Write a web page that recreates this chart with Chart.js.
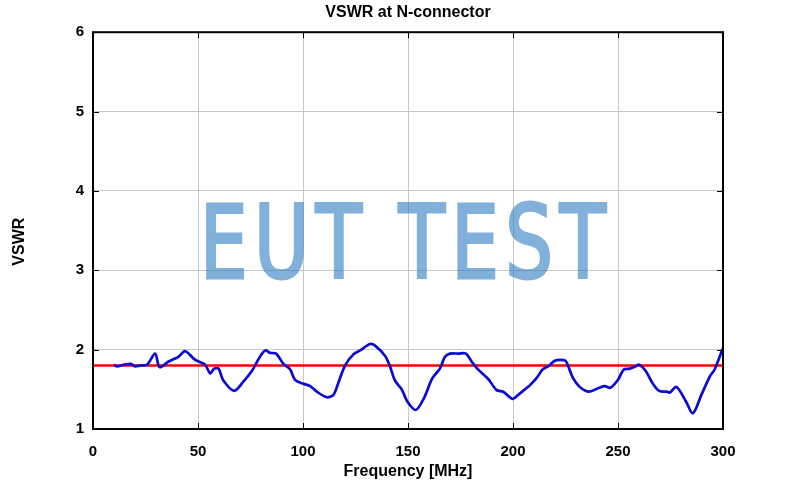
<!DOCTYPE html>
<html>
<head>
<meta charset="utf-8">
<script src="https://cdn.jsdelivr.net/npm/chart.js@4/dist/chart.umd.min.js"></script>
<style>
  html, body { margin: 0; padding: 0; background: #fff; }
  #wrap { position: relative; width: 792px; height: 486px; }
  #watermark {
    position: absolute; left: 200px; top: 183px;
    font-family: "DejaVu Sans Condensed", sans-serif;
    font-weight: normal; font-size: 102px; letter-spacing: 8px; white-space: nowrap;
    color: rgb(45, 125, 195); -webkit-text-stroke: 3px rgb(45, 125, 195);
    opacity: 0.6; pointer-events: none;
    transform-origin: left top; transform: scaleX(0.82);
  }
</style>
</head>
<body>
<div id="wrap">
  <canvas id="vswrChart" width="792" height="486"></canvas>
  <div id="watermark">EUT TEST</div>
</div>
<script>
const freqMHz = [10, 11.5, 14.5, 18, 20, 22.5, 25.7, 29.6, 31.7, 36,
  40.7, 43.9, 48.7, 53.4, 55.8, 57.7, 59.8, 62.1, 67.2, 71.7,
  75.9, 78.8, 82, 84.3, 87.2, 90.7, 93.9, 96.2, 100.2, 103.4,
  106.6, 111.3, 114.5, 116.8, 120, 124, 127.2, 131.9, 134.3, 139.1,
  141.4, 143.8, 147, 149.6, 153.7, 157.6, 161.6, 165.2, 167.6, 170, 174,
  177.6, 180.3, 183, 188.2, 192.2, 195.3, 199.8, 202.5, 205.7, 208,
  211.2, 214.1, 216.7, 219.9, 222.3, 225, 226.3, 228.6, 231.8, 236.3,
  241, 243.7, 246.4, 250, 252.8, 255.6, 257.7, 260, 263.2, 266.4,
  269.6, 273.1, 274.7, 277.8, 282.3, 285.7, 289.7, 293.7, 296, 300];
const vswr = [1.81, 1.79, 1.81, 1.82, 1.79, 1.80, 1.81, 1.95, 1.78, 1.85,
  1.91, 1.98, 1.87, 1.81, 1.70, 1.76, 1.76, 1.61, 1.48, 1.60,
  1.74, 1.88, 1.99, 1.96, 1.95, 1.82, 1.75, 1.62, 1.57, 1.54,
  1.47, 1.40, 1.43, 1.58, 1.80, 1.94, 1.99, 2.07, 2.05, 1.92,
  1.79, 1.61, 1.50, 1.35, 1.24, 1.39, 1.64, 1.76, 1.91, 1.95, 1.95,
  1.95, 1.85, 1.76, 1.63, 1.49, 1.47, 1.38, 1.43, 1.50, 1.55,
  1.64, 1.75, 1.79, 1.86, 1.87, 1.86, 1.79, 1.64, 1.53, 1.47,
  1.52, 1.54, 1.52, 1.62, 1.75, 1.76, 1.78, 1.81, 1.73, 1.58,
  1.48, 1.47, 1.46, 1.53, 1.35, 1.20, 1.43, 1.66, 1.75, 2.02];
const limitFreq = [0, 300];
const limitVswr = [1.8, 1.8];
const xTicks = [0, 50, 100, 150, 200, 250, 300];
const yTicks = [1, 2, 3, 4, 5, 6];

const tickFont = { family: '"Liberation Sans", Arial, sans-serif', size: 15, weight: 'bold' };

// black frame round the plot area, with short inward ticks
const frame = {
  id: 'frame',
  afterDraw(chart) {
    const { ctx, chartArea: a, scales } = chart;
    ctx.save();
    ctx.strokeStyle = '#000';
    ctx.lineWidth = 1;
    ctx.beginPath();
    xTicks.forEach(v => {
      const px = Math.round(scales.x.getPixelForValue(v)) + 0.5;
      ctx.moveTo(px, a.bottom); ctx.lineTo(px, a.bottom - 6);
      ctx.moveTo(px, a.top); ctx.lineTo(px, a.top + 6);
    });
    yTicks.forEach(v => {
      const py = Math.round(scales.y.getPixelForValue(v)) + 0.5;
      ctx.moveTo(a.left, py); ctx.lineTo(a.left + 6, py);
      ctx.moveTo(a.right, py); ctx.lineTo(a.right - 6, py);
    });
    ctx.stroke();
    ctx.lineWidth = 2;
    ctx.strokeRect(a.left, a.top, a.right - a.left, a.bottom - a.top);
    ctx.restore();
  }
};

new Chart(document.getElementById('vswrChart').getContext('2d'), {
  type: 'line',
  data: {
    datasets: [
      {
        label: 'VSWR',
        data: freqMHz.map((f, i) => ({ x: f, y: vswr[i] })),
        borderColor: '#0a0ad2',
        borderWidth: 2.7,
        pointRadius: 0,
        tension: 0.3,
        order: 1
      },
      {
        label: 'Limit',
        data: limitFreq.map((f, i) => ({ x: f, y: limitVswr[i] })),
        borderColor: '#ff0000',
        borderWidth: 2.5,
        pointRadius: 0,
        order: 2
      }
    ]
  },
  options: {
    responsive: false,
    animation: false,
    layout: { padding: { left: 0, right: 69, bottom: 0 } },
    plugins: {
      legend: { display: false },
      tooltip: { enabled: false },
      title: {
        display: true,
        fullSize: false,
        text: 'VSWR at N-connector',
        color: '#000',
        font: { family: '"Liberation Sans", Arial, sans-serif', size: 16, weight: 'bold' },
        padding: { top: 3, bottom: 10 }
      }
    },
    scales: {
      x: {
        type: 'linear',
        min: 0, max: 300,
        afterBuildTicks: s => { s.ticks = xTicks.map(v => ({ value: v })); },
        afterFit: s => { s.height = 57; },
        grid: { color: '#c8c8c8', lineWidth: 1, drawTicks: false },
        border: { display: false },
        ticks: { color: '#000', font: tickFont, padding: 14, maxRotation: 0 },
        title: {
          display: true, text: 'Frequency [MHz]', color: '#000',
          font: { family: '"Liberation Sans", Arial, sans-serif', size: 16, weight: 'bold' },
          padding: { top: 0, bottom: 5 }
        }
      },
      y: {
        min: 1, max: 6,
        afterBuildTicks: s => { s.ticks = yTicks.map(v => ({ value: v })); },
        afterFit: s => { s.width = 93; },
        grid: { color: '#c8c8c8', lineWidth: 1, drawTicks: false },
        border: { display: false },
        ticks: { color: '#000', font: tickFont, padding: 9 },
        title: {
          display: true, text: 'VSWR' + '\u00a0'.repeat(5), color: '#000',
          font: { family: '"Liberation Sans", Arial, sans-serif', size: 16, weight: 'bold' },
          padding: { top: 10, bottom: 0 }
        }
      }
    }
  },
  plugins: [frame]
});
</script>
</body>
</html>
